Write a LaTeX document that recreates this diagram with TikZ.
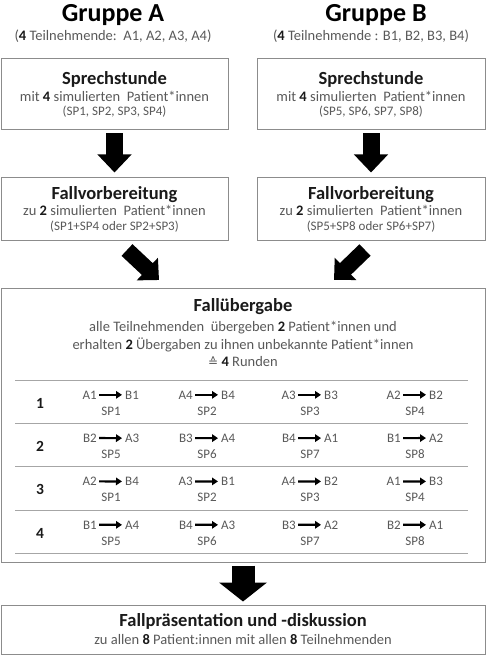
\documentclass[tikz,border=0pt]{standalone}
\usepackage{fontspec}
\setmainfont{Carlito}
\newfontfamily\symfont{DejaVu Sans}
\usetikzlibrary{arrows.meta,calc}
\definecolor{txt}{HTML}{595959}
\definecolor{dark}{HTML}{1A1A1A}
\definecolor{boxline}{HTML}{8C8C8C}
\definecolor{sepline}{HTML}{A6A6A6}
\newcommand\hopair[6]{%
  \node[pairtxt, anchor=base east] (#1s) at (#2-14,#3) {#4};
  \node[pairtxt, anchor=base west] (#1t) at (#2+14,#3) {#5};
  \node[pairtxt] (#1p) at (#2,#3+16) {#6};
  \draw[pairarrow] (#1s.east) -- (#1t.west);
}
\begin{document}
\begin{tikzpicture}[x=1pt,y=-1pt,
  box/.style={draw=boxline, line width=1pt, inner sep=0pt},
  grp/.style={font=\bfseries\fontsize{26}{28}\selectfont, text=black, anchor=base, inner sep=0pt},
  ttl/.style={font=\bfseries\fontsize{18.5}{20}\selectfont, text=dark, anchor=base, inner sep=0pt},
  body/.style={font=\fontsize{14.5}{16}\selectfont, text=txt, anchor=base, inner sep=0pt},
  small/.style={font=\fontsize{13}{15}\selectfont, text=txt, anchor=base, inner sep=0pt},
  pairtxt/.style={font=\fontsize{13}{15}\selectfont, text=txt, anchor=base, inner sep=0pt},
  rownum/.style={font=\bfseries\fontsize{15.5}{17}\selectfont, text=dark, anchor=base, inner sep=0pt},
  pairarrow/.style={line width=2.2pt, -{Triangle[width=7.5pt,length=6pt]}, shorten <=2pt, shorten >=3pt},
  blockarrow/.style={line width=17pt, -{Triangle[width=33pt,length=18pt]}},
  diagarrow/.style={line width=16pt, -{Triangle[width=30pt,length=16pt]}},
  bigarrow/.style={line width=23pt, -{Triangle[width=47pt,length=19pt]}},
  sep/.style={draw=sepline, line width=1pt}
]
\useasboundingbox[fill=white] (0,0) rectangle (486,655);

% group headings
\node[grp] (gA) at (113,22) {Gruppe A};
\node[grp] (gB) at (376,22) {Gruppe B};
\node[body] (tA) at (113,41) {({\bfseries\color{dark}4} Teilnehmende:\ \ A1, A2, A3, A4)};
\node[body] (tB) at (371,41) {({\bfseries\color{dark}4} Teilnehmende\ : B1, B2, B3, B4)};

% Sprechstunde boxes
\node[box, minimum width=227pt, minimum height=71pt] (sA) at (114.5,94.5) {};
\node[box, minimum width=228pt, minimum height=71pt] (sB) at (371,94.5) {};
\node[ttl] (sAt) at (114.5,85) {Sprechstunde};
\node[body] (sAm) at (114.5,101.5) {mit {\bfseries\color{dark}4} simulierten\ \ Patient*innen};
\node[small] (sAs) at (114.5,116) {(SP1, SP2, SP3, SP4)};
\node[ttl] (sBt) at (371,85) {Sprechstunde};
\node[body] (sBm) at (371,101.5) {mit {\bfseries\color{dark}4} simulierten\ \ Patient*innen};
\node[small] (sBs) at (371,116) {(SP5, SP6, SP7, SP8)};

% Fallvorbereitung boxes
\node[box, minimum width=227pt, minimum height=63pt] (fA) at (114.5,208.5) {};
\node[box, minimum width=228pt, minimum height=63pt] (fB) at (371,208.5) {};
\node[ttl] (fAt) at (114.5,199) {Fallvorbereitung};
\node[body] (fAm) at (114.5,215) {zu {\bfseries\color{dark}2} simulierten\ \ Patient*innen};
\node[small] (fAs) at (114.5,230) {(SP1+SP4 oder SP2+SP3)};
\node[ttl] (fBt) at (371,199) {Fallvorbereitung};
\node[body] (fBm) at (371,215) {zu {\bfseries\color{dark}2} simulierten\ \ Patient*innen};
\node[small] (fBs) at (371,230) {(SP5+SP8 oder SP6+SP7)};

% block arrows
\draw[blockarrow, shorten <=3pt, shorten >=4pt] (sA.south) -- (fA.north);
\draw[blockarrow, shorten <=3pt, shorten >=4pt] (sB.south) -- (fB.north);
\coordinate (dA1) at (127,250); \coordinate (dA2) at (159,280);
\coordinate (dB1) at (365,250); \coordinate (dB2) at (334,280);
\draw[diagarrow] (dA1) -- (dA2);
\draw[diagarrow] (dB1) -- (dB2);

% Fallübergabe box
\node[box, minimum width=484pt, minimum height=274pt] (ue) at (243,425) {};
\node[ttl] (uet) at (243,311) {Fallübergabe};
\node[body] (ue1) at (243,331) {alle Teilnehmenden\ \ übergeben {\bfseries\color{dark}2} Patient*innen und};
\node[body] (ue2) at (243,349) {erhalten {\bfseries\color{dark}2} Übergaben zu ihnen unbekannte Patient*innen};
\node[body] (ue3) at (243,366) {{\symfont\fontsize{12}{14}\selectfont ≙} {\bfseries\color{dark}4} Runden};

\foreach \yy in {380,423.3,466.6,510,553.3}{
  \draw[sep] (15,\yy) -- (468,\yy);
}

% rounds
\node[rownum] (n1) at (40,408) {1};
\node[rownum] (n2) at (40,451.3) {2};
\node[rownum] (n3) at (40,494.6) {3};
\node[rownum] (n4) at (40,538) {4};

\hopair{aa}{111}{399}{A1}{B1}{SP1}
\hopair{ab}{207}{399}{A4}{B4}{SP2}
\hopair{ac}{310}{399}{A3}{B3}{SP3}
\hopair{ad}{415}{399}{A2}{B2}{SP4}

\hopair{ba}{111}{442.3}{B2}{A3}{SP5}
\hopair{bb}{207}{442.3}{B3}{A4}{SP6}
\hopair{bc}{310}{442.3}{B4}{A1}{SP7}
\hopair{bd}{415}{442.3}{B1}{A2}{SP8}

\hopair{ca}{111}{485.6}{A2}{B4}{SP1}
\hopair{cb}{207}{485.6}{A3}{B1}{SP2}
\hopair{cc}{310}{485.6}{A4}{B2}{SP3}
\hopair{cd}{415}{485.6}{A1}{B3}{SP4}

\hopair{da}{111}{529}{B1}{A4}{SP5}
\hopair{db}{207}{529}{B4}{A3}{SP6}
\hopair{dc}{310}{529}{B3}{A2}{SP7}
\hopair{dd}{415}{529}{B2}{A1}{SP8}

% final box
\node[box, minimum width=484pt, minimum height=49pt] (fp) at (243,629.5) {};
\node[ttl] (fpt) at (243,626) {Fallpräsentation und -diskussion};
\node[body] (fps) at (243,644) {zu allen {\bfseries\color{dark}8} Patient:innen mit allen {\bfseries\color{dark}8} Teilnehmenden};
\draw[bigarrow, shorten <=3pt, shorten >=3pt] (ue.south) -- (fp.north);
\end{tikzpicture}
\end{document}
